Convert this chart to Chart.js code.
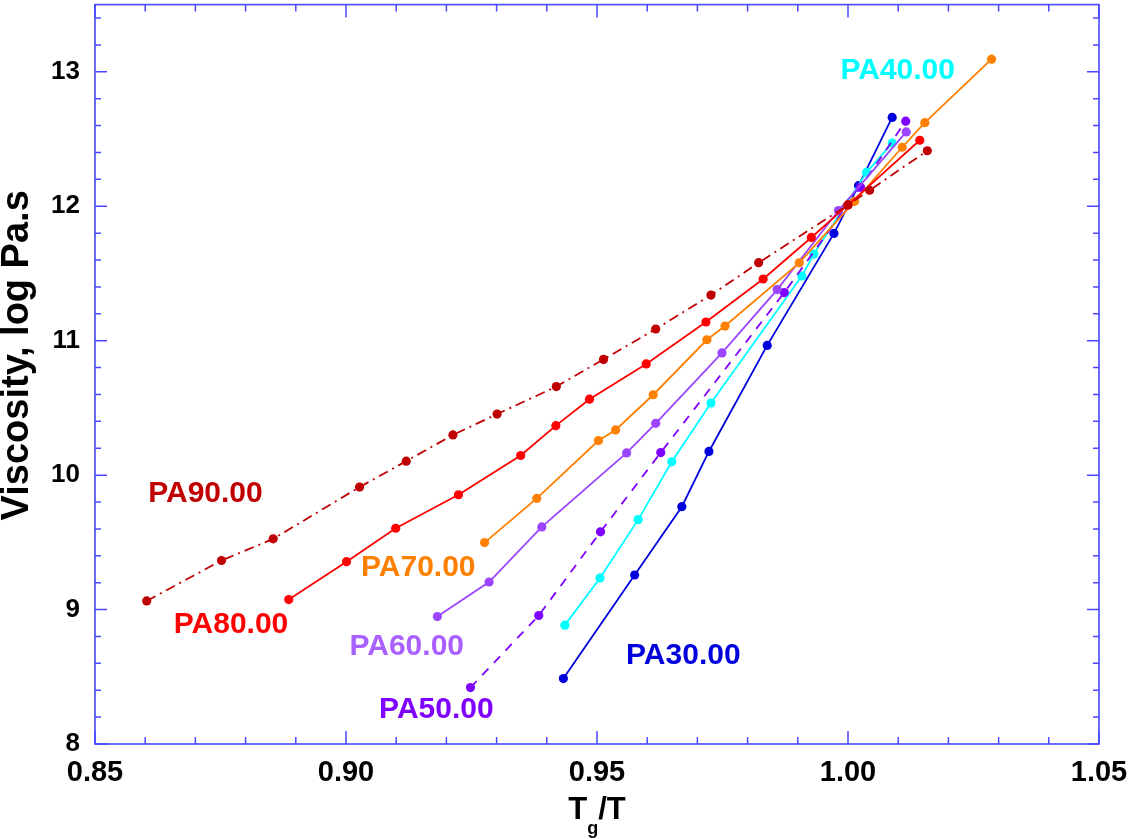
<!DOCTYPE html>
<html>
<head>
<meta charset="utf-8">
<script src="https://cdn.jsdelivr.net/npm/chart.js@4/dist/chart.umd.min.js"></script>
<style>
  html, body { margin: 0; padding: 0; background: #ffffff; }
  #wrap { width: 1131px; height: 839px; }
</style>
</head>
<body>
<div id="wrap"><canvas id="c" width="1131" height="839"></canvas></div>
<script>
// ---- data ----
const pa90_x = [0.8603, 0.8752, 0.8855, 0.9027, 0.9120, 0.9213, 0.9301, 0.9419, 0.9513, 0.9617, 0.9727, 0.9822, 1.0000, 1.0043, 1.0158];
const pa90_y = [9.064, 9.365, 9.526, 9.911, 10.104, 10.299, 10.454, 10.659, 10.861, 11.087, 11.339, 11.580, 12.01, 12.119, 12.413];

const pa80_x = [0.8886, 0.9001, 0.9099, 0.9224, 0.9348, 0.9418, 0.9485, 0.9598, 0.9717, 0.9831, 0.9927, 1.0000, 1.0143];
const pa80_y = [9.074, 9.356, 9.605, 9.854, 10.146, 10.368, 10.565, 10.827, 11.139, 11.459, 11.768, 12.01, 12.491];

const pa70_x = [0.9276, 0.9380, 0.9503, 0.9537, 0.9612, 0.9719, 0.9755, 0.9903, 1.0013, 1.0108, 1.0153, 1.0286];
const pa70_y = [9.498, 9.827, 10.257, 10.336, 10.598, 11.007, 11.109, 11.579, 12.037, 12.439, 12.622, 13.094];

const pa60_x = [0.9182, 0.9285, 0.9390, 0.9559, 0.9617, 0.9749, 0.9859, 0.9981, 1.0116];
const pa60_y = [8.948, 9.205, 9.615, 10.165, 10.385, 10.909, 11.380, 11.968, 12.553];

const pa50_x = [0.9248, 0.9384, 0.9507, 0.9627, 0.9873, 1.0025, 1.0115];
const pa50_y = [8.420, 8.956, 9.578, 10.168, 11.358, 12.141, 12.633];

const pa40_x = [0.9436, 0.9506, 0.9582, 0.9649, 0.9727, 0.9908, 0.9932, 1.0037, 1.0088];
const pa40_y = [8.884, 9.235, 9.669, 10.099, 10.536, 11.481, 11.644, 12.252, 12.470];

const pa30_x = [0.9433, 0.9575, 0.9669, 0.9723, 0.9839, 0.9972, 1.0021, 1.0088];
const pa30_y = [8.487, 9.257, 9.765, 10.176, 10.965, 11.798, 12.153, 12.661];

const seriesNames = ['PA90.00', 'PA80.00', 'PA70.00', 'PA60.00', 'PA50.00', 'PA40.00', 'PA30.00'];

// axis ranges / tick values
const xMin = 0.85, xMax = 1.05, xMajorStep = 0.05, xMinorStep = 0.01;
const yMin = 8, yMax = 13.5, yMajorStep = 1, yMinorStep = 0.2;
const xTitleMain = 'T', xTitleSub = 'g', xTitleEnd = '/T';
const yTitle = 'Viscosity, log Pa.s';

// label anchors in data units (text centres)
const labelX = [0.8720, 0.8771, 0.9144, 0.9121, 0.9180, 1.0099, 0.9672];
const labelY = [9.863, 8.887, 9.313, 8.727, 8.252, 13.007, 8.658];

// ---- styles ----
const colors = ['#c00000', '#ff0000', '#ff8000', '#9b45ff', '#8000ff', '#00ffff', '#0000dd'];
const labelColors = ['#c00000', '#ff0000', '#ff8000', '#a860ff', '#8000ff', '#00ffff', '#0000dd'];
const dashes = [[10, 5, 2, 5], [], [], [], [9, 8], [], []];
const FONT = '"Liberation Sans", Arial, Helvetica, sans-serif';
const FRAME = '#4848ff';

const xs = [pa90_x, pa80_x, pa70_x, pa60_x, pa50_x, pa40_x, pa30_x];
const ys = [pa90_y, pa80_y, pa70_y, pa60_y, pa50_y, pa40_y, pa30_y];

const datasets = seriesNames.map((name, i) => ({
  label: name,
  data: xs[i].map((x, k) => ({ x: x, y: ys[i][k] })),
  borderColor: colors[i],
  backgroundColor: colors[i],
  pointBackgroundColor: colors[i],
  pointBorderWidth: 0,
  pointRadius: 4.6,
  borderWidth: 1.8,
  borderDash: dashes[i],
  tension: 0,
  fill: false
}));

const framePlugin = {
  id: 'frameTicks',
  afterDatasetsDraw(chart) {
    const { ctx, chartArea: a, scales } = chart;
    const sx = scales.x, sy = scales.y;
    ctx.save();
    ctx.strokeStyle = FRAME;
    ctx.lineWidth = 1.6;
    ctx.setLineDash([]);
    ctx.strokeRect(a.left, a.top, a.right - a.left, a.bottom - a.top);
    ctx.lineWidth = 1.5;
    const nx = Math.floor((xMax - xMin) / xMinorStep + 1e-6);
    for (let i = 0; i <= nx; i++) {
      const v = xMin + i * xMinorStep;
      const px = sx.getPixelForValue(v);
      const major = i % Math.round(xMajorStep / xMinorStep) === 0;
      const len = major ? 13 : 7;
      ctx.beginPath();
      ctx.moveTo(px, a.bottom); ctx.lineTo(px, a.bottom - len);
      ctx.moveTo(px, a.top); ctx.lineTo(px, a.top + len);
      ctx.stroke();
    }
    const ny = Math.floor((yMax - yMin) / yMinorStep + 1e-6);
    for (let i = 0; i <= ny; i++) {
      const v = yMin + i * yMinorStep;
      const py = sy.getPixelForValue(v);
      const major = i % Math.round(yMajorStep / yMinorStep) === 0;
      const len = major ? 12 : 6;
      ctx.beginPath();
      ctx.moveTo(a.left, py); ctx.lineTo(a.left + len, py);
      ctx.moveTo(a.right, py); ctx.lineTo(a.right - len, py);
      ctx.stroke();
    }
    // series labels
    ctx.font = 'bold 30px ' + FONT;
    ctx.textAlign = 'center';
    ctx.textBaseline = 'middle';
    seriesNames.forEach((name, i) => {
      ctx.fillStyle = labelColors[i];
      ctx.fillText(name, sx.getPixelForValue(labelX[i]), sy.getPixelForValue(labelY[i]));
    });
    // x title with subscript
    ctx.fillStyle = '#000';
    ctx.textAlign = 'left';
    ctx.textBaseline = 'alphabetic';
    const cx = (a.left + a.right) / 2;
    ctx.font = 'bold 31px ' + FONT;
    const wT = ctx.measureText(xTitleMain).width;
    const wE = ctx.measureText(xTitleEnd).width;
    ctx.font = 'bold 18px ' + FONT;
    const wG = ctx.measureText(xTitleSub).width;
    const total = wT + wG + wE;
    let x0 = cx - total / 2;
    ctx.font = 'bold 31px ' + FONT;
    ctx.fillText(xTitleMain, x0, 819);
    ctx.font = 'bold 18px ' + FONT;
    ctx.fillText(xTitleSub, x0 + wT, 834);
    ctx.font = 'bold 31px ' + FONT;
    ctx.fillText(xTitleEnd, x0 + wT + wG, 819);
    // y title
    ctx.save();
    ctx.translate(28, (a.top + a.bottom) / 2 - 19);
    ctx.rotate(-Math.PI / 2);
    ctx.textAlign = 'center';
    ctx.font = 'bold 38px ' + FONT;
    ctx.fillText(yTitle, 0, 0);
    ctx.restore();
    ctx.restore();
  }
};

function zeroPad(s) { s.paddingTop = 0; s.paddingBottom = 0; s.paddingLeft = 0; s.paddingRight = 0; }

new Chart(document.getElementById('c'), {
  type: 'line',
  data: { datasets: datasets },
  options: {
    responsive: false,
    devicePixelRatio: 1,
    animation: false,
    events: [],
    layout: { padding: { top: 1, right: 32, bottom: 0, left: 0 } },
    plugins: { legend: { display: false }, tooltip: { enabled: false } },
    scales: {
      x: {
        type: 'linear', min: xMin, max: xMax,
        grid: { display: false, drawTicks: false },
        border: { display: false },
        ticks: {
          stepSize: xMajorStep, autoSkip: false, maxRotation: 0, padding: 12,
          color: '#000', font: { family: FONT, size: 29, weight: 'bold' },
          callback: (v) => v.toFixed(2)
        },
        afterFit: (s) => { s.height = 95; zeroPad(s); }
      },
      y: {
        type: 'linear', min: yMin, max: yMax,
        grid: { display: false, drawTicks: false },
        border: { display: false },
        ticks: {
          stepSize: yMajorStep, autoSkip: false, padding: 15,
          color: '#000', font: { family: FONT, size: 26, weight: 'bold' },
          callback: (v) => (Math.abs(v - Math.round(v)) < 1e-6 ? String(Math.round(v)) : '')
        },
        afterFit: (s) => { s.width = 95; zeroPad(s); }
      }
    }
  },
  plugins: [framePlugin]
});
</script>
</body>
</html>
